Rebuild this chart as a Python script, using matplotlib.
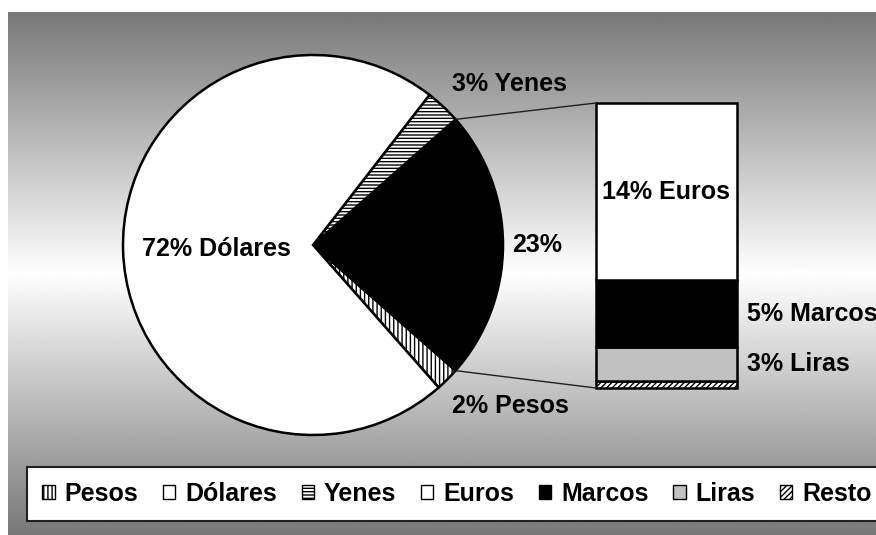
import numpy as np
import matplotlib
matplotlib.use('Agg')
import matplotlib.pyplot as plt
from matplotlib.patches import Patch, ConnectionPatch

# ---------------- data ----------------
pie_labels = ['Pesos', 'Otros', 'Yenes', 'Dólares']
pie_values = [2, 23, 3, 72]
bar_labels = ['Resto', 'Liras', 'Marcos', 'Euros']
bar_values = [0.6, 2.7, 5.4, 14.3]
legend_order = ['Pesos', 'Dólares', 'Yenes', 'Euros', 'Marcos', 'Liras', 'Resto']

styles = {
    'Pesos': dict(facecolor='white', hatch='||||'),
    'Dólares': dict(facecolor='white', hatch=None),
    'Yenes': dict(facecolor='white', hatch='-----'),
    'Otros': dict(facecolor='black', hatch=None),
    'Euros': dict(facecolor='white', hatch=None),
    'Marcos': dict(facecolor='black', hatch=None),
    'Liras': dict(facecolor='#c0c0c0', hatch=None),
    'Resto': dict(facecolor='white', hatch='//////'),
}

plt.rcParams['font.family'] = ['Liberation Sans', 'DejaVu Sans']
plt.rcParams['hatch.linewidth'] = 1.0
FS = 18

W, H = 876, 535
fig = plt.figure(figsize=(W / 100, H / 100), dpi=100)
fig.patch.set_facecolor('white')

# ---------------- gradient background ----------------
bg = fig.add_axes([8 / W, 0, 1 - 8 / W, (H - 12) / H])
t = np.linspace(-1, 1, 500)
g = (120 + 135 * (1 - np.abs(t))) / 255.0
bg.imshow(np.repeat(g[:, None], 2, axis=1), cmap='gray', vmin=0, vmax=1,
          aspect='auto', extent=[0, 1, 0, 1], interpolation='bilinear')
bg.axis('off')

# ---------------- pie ----------------
ax = fig.add_axes([0, 0, 1, 1])
ax.patch.set_alpha(0)
cx, cy, R = 313, H - 245, 190
start = -(pie_values[0] + pie_values[1] / 2) * 3.6
wedges, _ = ax.pie(pie_values, center=(cx, cy), radius=R, startangle=start,
                   counterclock=True,
                   wedgeprops=dict(edgecolor='black', linewidth=1.8))
for w, lab in zip(wedges, pie_labels):
    st = styles[lab]
    w.set_facecolor(st['facecolor'])
    if st['hatch']:
        w.set_hatch(st['hatch'])
ax.set_xlim(0, W)
ax.set_ylim(0, H)
ax.set_aspect('auto')
ax.axis('off')

vals = dict(zip(pie_labels, pie_values))
tk = dict(fontsize=FS, fontweight='bold', color='black')
ax.text(216, H - 249, f"{vals['Dólares']}% Dólares", ha='center', va='center', **tk)
ax.text(452, H - 84, f"{vals['Yenes']}% Yenes", ha='left', va='center', **tk)
ax.text(537, H - 245, f"{vals['Otros']}%", ha='center', va='center', **tk)
ax.text(452, H - 406, f"{vals['Pesos']}% Pesos", ha='left', va='center', **tk)

# ---------------- bar ----------------
bx0, bx1, by0, by1 = 596, 737, 103, 388
axb = fig.add_axes([bx0 / W, (H - by1) / H, (bx1 - bx0) / W, (by1 - by0) / H])
axb.patch.set_alpha(0)
bottom = 0.0
mids = {}
for lab, v in zip(bar_labels, bar_values):
    st = styles[lab]
    axb.bar(0, v, bottom=bottom, width=1.0, facecolor=st['facecolor'],
            hatch=st['hatch'], edgecolor='black', linewidth=1.8, clip_on=False)
    mids[lab] = (bottom + v / 2, v)
    bottom += v
total = bottom
axb.set_xlim(-0.5, 0.5)
axb.set_ylim(0, total)
axb.axis('off')

axb.text(0, mids['Euros'][0], f"{round(mids['Euros'][1])}% Euros",
         ha='center', va='center', **tk)
for lab in ['Marcos', 'Liras']:
    axb.annotate(f"{round(mids[lab][1])}% {lab}", xy=(0.5, mids[lab][0]),
                 xytext=(10, 0), textcoords='offset pixels',
                 ha='left', va='center', annotation_clip=False, **tk)

# ---------------- connectors ----------------
wo = wedges[pie_labels.index('Otros')]
for ang, yb in [(wo.theta2, total), (wo.theta1, 0)]:
    px = cx + R * np.cos(np.radians(ang))
    py = cy + R * np.sin(np.radians(ang))
    con = ConnectionPatch(xyA=(px, py), coordsA=ax.transData,
                          xyB=(-0.5, yb), coordsB=axb.transData,
                          color='#202020', linewidth=1.0)
    fig.add_artist(con)

# ---------------- legend ----------------
handles = []
for lab in legend_order:
    st = styles[lab]
    handles.append(Patch(facecolor=st['facecolor'], hatch=st['hatch'],
                         edgecolor='black', linewidth=1.0, label=lab))
leg = fig.legend(handles=handles, ncol=7, loc='center left',
                 bbox_to_anchor=(27 / W, (H - 494) / H), borderaxespad=0,
                 prop=dict(weight='bold', size=FS), handlelength=0.5,
                 handleheight=0.5, handletextpad=0.4, columnspacing=0.98,
                 borderpad=0.6, frameon=True, fancybox=False,
                 edgecolor='#202020', framealpha=1)
leg.get_frame().set_linewidth(1.5)

fig.savefig('out.png', dpi=100)
